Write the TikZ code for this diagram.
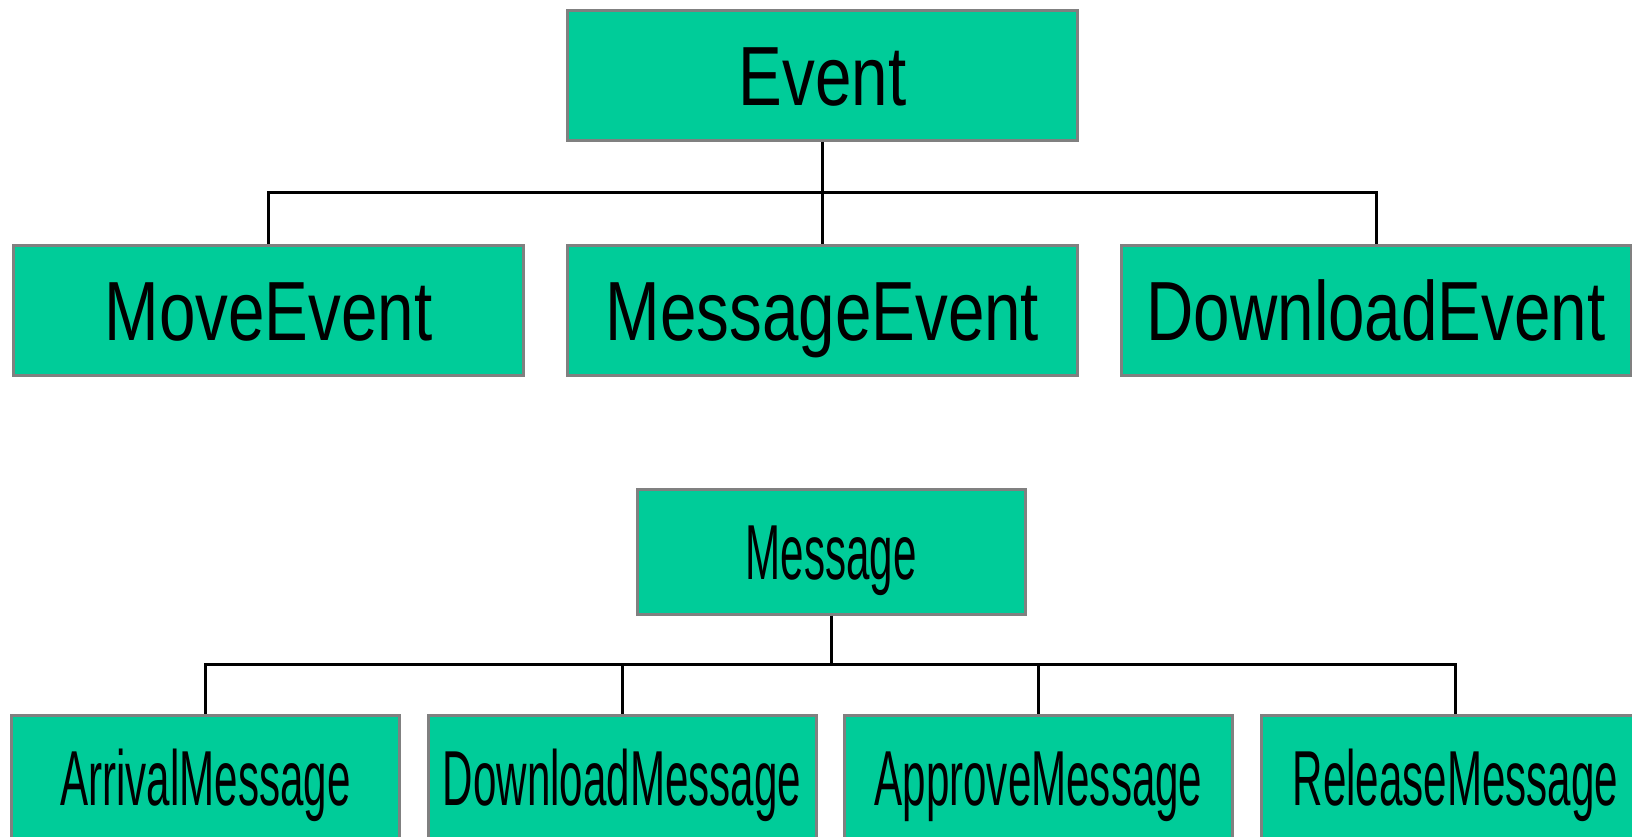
\documentclass[tikz,border=0pt]{standalone}
\usepackage{fontspec}
\newfontfamily\eventfont[FakeStretch=0.78]{Liberation Sans}
\newfontfamily\msgfont[FakeStretch=0.54]{Liberation Sans}
\definecolor{boxfill}{RGB}{0,204,153}
\definecolor{boxline}{RGB}{128,128,128}
\begin{document}
\begin{tikzpicture}[x=1pt,y=-1pt,
  classbox/.style={draw=boxline, line width=3pt, fill=boxfill, inner sep=0pt,
    text height=60pt, text depth=0pt},
  eventbox/.style={classbox, minimum width=510pt, minimum height=130pt,
    font=\eventfont\fontsize{84}{90}\selectfont},
  msgbox/.style={classbox, minimum width=388pt, minimum height=125pt,
    text height=56pt, font=\msgfont\fontsize{78}{84}\selectfont},
  link/.style={draw=black, line width=3pt}]
\useasboundingbox (0,0) rectangle (1632,837);

% Event hierarchy
\node[eventbox] (event) at (822.5,75.5) {Event};
\node[eventbox] (move) at (268.5,310.6) {MoveEvent};
\node[eventbox] (msgevent) at (822.5,310.6) {MessageEvent};
\node[eventbox] (download) at (1376,310.6) {DownloadEvent};
\coordinate (bar1) at (0,192.5);
\draw[link] (event.south) -- (msgevent.north);
\draw[link] (move.north) -- (move.north |- bar1) -- (download.north |- bar1) -- (download.north);

% Message hierarchy
\node[msgbox] (message) at (831,551.5) {Message};
\node[msgbox] (arrival) at (205.5,777.5) {ArrivalMessage};
\node[msgbox] (dlmsg) at (622,777.5) {DownloadMessage};
\node[msgbox] (approve) at (1038.5,777.5) {ApproveMessage};
\node[msgbox] (release) at (1455.5,777.5) {ReleaseMessage};
\coordinate (bar2) at (0,664);
\draw[link] (message.south) -- (message.south |- bar2);
\draw[link] (arrival.north) -- (arrival.north |- bar2) -- (release.north |- bar2) -- (release.north);
\draw[link] (dlmsg.north) -- (dlmsg.north |- bar2);
\draw[link] (approve.north) -- (approve.north |- bar2);
\end{tikzpicture}
\end{document}
